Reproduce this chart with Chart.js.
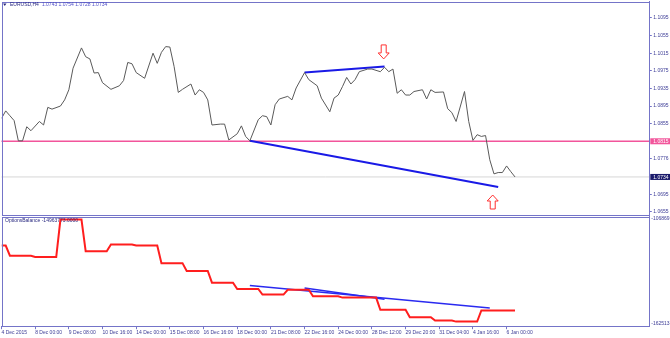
<!DOCTYPE html>
<html>
<head>
<meta charset="utf-8">
<script src="https://cdn.jsdelivr.net/npm/chart.js@4.4.0/dist/chart.umd.min.js"></script>
<style>
body{margin:0;background:#fff;width:670px;height:338px;overflow:hidden;position:relative}
canvas{position:absolute;left:0}
#price-chart{top:0}
#balance-chart{top:215px}
</style>
</head>
<body>
<canvas id="price-chart" width="670" height="216"></canvas>
<canvas id="balance-chart" width="670" height="123"></canvas>
<script>
// EURUSD H4 closes (bar index -> price)
var priceBars = [0,1,2,3,4,5,6,7,9,10,
	11,12,14,15,16,17,19,20,21,22,
	23,24,26,28,29,30,31,32,34,36,
	37,38,39,40,41,42,43,45,46,47,
	48,49,50,52,53,54,56,57,58,59,
	61,62,63,64,65,66,68,69,70,72,
	73,75,76,78,79,80,81,82,83,84,
	85,87,88,90,91,92,93,94,95,96,
	97,98,100,101,102,103,105,106,107,108,
	110,111,112,113,114,115,116,117,118,119,
	120,121,122];
var priceValues = [1.0867,1.0884,1.0873,1.0862,1.0816,1.0816,1.0848,1.0839,1.0860,1.0852,
	1.0892,1.0888,1.0895,1.0909,1.0932,1.0981,1.1027,1.1007,1.1002,1.0970,
	1.0971,1.0948,1.0933,1.0941,1.0953,1.0994,1.0991,1.0971,1.0958,1.1015,
	1.0992,1.1017,1.1030,1.1029,1.0985,1.0926,1.0933,1.0945,1.0920,1.0932,
	1.0926,1.0909,1.0852,1.0854,1.0854,1.0818,1.0832,1.0850,1.0826,1.0816,
	1.0864,1.0873,1.0871,1.0852,1.0898,1.0911,1.0917,1.0909,1.0936,1.0971,
	1.0955,1.0941,1.0913,1.0882,1.0913,1.0920,1.0939,1.0960,1.0945,1.0955,
	1.0973,1.0979,1.0979,1.0973,1.0983,1.0973,1.0979,1.0924,1.0932,1.0920,
	1.0920,1.0928,1.0932,1.0911,1.0932,1.0926,1.0927,1.0889,1.0880,1.0860,
	1.0928,1.0860,1.0817,1.0830,1.0826,1.0828,1.0773,1.0741,1.0744,1.0744,
	1.0759,1.0746,1.0734];

// OptionsBalance indicator
var balanceBars = [0,1,2,7,8,13,14,19,20,25,
	26,31,32,37,38,43,44,49,50,55,
	56,61,62,67,68,73,74,80,81,89,
	90,96,97,102,103,107,108,113,114,122];
var balanceValues = [-12156000,-12156000,-12668000,-12668000,-12735000,-12735000,-10840000,-10840000,-12443000,-12443000,
	-12105000,-12105000,-12156000,-12156000,-13042000,-13042000,-13436000,-13436000,-14030000,-14030000,
	-14347000,-14347000,-14629000,-14629000,-14388000,-14388000,-14716000,-14716000,-14782000,-14782000,
	-15396000,-15396000,-15770000,-15770000,-15944000,-15944000,-15995000,-15995000,-15432000,-15432000];

// trend lines drawn on the chart
var priceTrendTop = {bars: [72, 91], values: [1.0971, 1.0985]};
var priceTrendLow = {bars: [59, 118], values: [1.0816, 1.0711]};
var balanceTrendA = {bars: [59, 116], values: [-14168000, -15309000]};
var balanceTrendB = {bars: [72, 91], values: [-14300000, -14860000]};

var arrowBars = [90.8, 116.7];
var arrowPrices = [1.1002, 1.0693];
var arrowDirs = ['down', 'up'];

var levelPrices = [1.0815, 1.0734];
var priceTicks = [1.1095, 1.1055, 1.1015, 1.0975, 1.0935, 1.0895, 1.0855, 1.0776, 1.0695, 1.0655];
var timeLabels = ['4 Dec 2015','8 Dec 00:00','9 Dec 08:00','10 Dec 16:00','14 Dec 00:00','15 Dec 08:00',
	'16 Dec 16:00','18 Dec 00:00','21 Dec 08:00','22 Dec 16:00','24 Dec 00:00','28 Dec 12:00',
	'29 Dec 20:00','31 Dec 04:00','4 Jan 16:00','6 Jan 00:00'];
var balanceLabels = ['-10686957', '-16251348'];
var headerName = 'EURUSD,H4';
var headerPrices = '1.0743 1.0754 1.0728 1.0734';
var balanceCaption = 'OptionsBalance -14963773.0000';

var axisColor = '#7474c8';
var labelColor = '#3c3c96';
var tinyFont = {family: 'Liberation Sans', size: 5};
Chart.defaults.font.family = 'Liberation Sans';

function points(bars, values){
	return bars.map(function(b, i){ return {x: b, y: values[i]}; });
}

function drawFrame(chart){
	var ctx = chart.ctx, a = chart.chartArea;
	ctx.save();
	ctx.strokeStyle = axisColor;
	ctx.lineWidth = 1;
	ctx.strokeRect(Math.round(a.left) + 0.5, Math.round(a.top) + 0.5,
		Math.round(a.right - a.left) - 1, Math.round(a.bottom - a.top) - 1);
	ctx.restore();
}

function drawArrow(ctx, cx, tipY, dir){
	var s = dir == 'down' ? -1 : 1;
	ctx.beginPath();
	ctx.moveTo(cx, tipY);
	ctx.lineTo(cx + 5.5, tipY - s * -6);
	ctx.lineTo(cx + 2.5, tipY - s * -6);
	ctx.lineTo(cx + 2.5, tipY - s * -14);
	ctx.lineTo(cx - 2.5, tipY - s * -14);
	ctx.lineTo(cx - 2.5, tipY - s * -6);
	ctx.lineTo(cx - 5.5, tipY - s * -6);
	ctx.closePath();
	ctx.fillStyle = '#fff';
	ctx.fill();
	ctx.strokeStyle = '#ff3030';
	ctx.lineWidth = 1;
	ctx.stroke();
}

var pricePanel = {
	id: 'pricePanel',
	beforeDatasetsDraw: function(chart){
		var ctx = chart.ctx, a = chart.chartArea, y = chart.scales.y;
		ctx.save();
		var yp = y.getPixelForValue(levelPrices[1]);
		ctx.strokeStyle = '#d6d6d6';
		ctx.lineWidth = 1;
		ctx.beginPath(); ctx.moveTo(a.left, yp); ctx.lineTo(a.right, yp); ctx.stroke();
		yp = y.getPixelForValue(levelPrices[0]);
		ctx.strokeStyle = '#f2559b';
		ctx.lineWidth = 1.5;
		ctx.beginPath(); ctx.moveTo(a.left, yp); ctx.lineTo(a.right, yp); ctx.stroke();
		ctx.restore();
	},
	afterDraw: function(chart){
		var ctx = chart.ctx, a = chart.chartArea, x = chart.scales.x, y = chart.scales.y;
		drawFrame(chart);
		ctx.save();
		// level labels on the price axis
		var boxColors = ['#f2559b', '#1c1c6c'];
		levelPrices.forEach(function(p, i){
			var yp = y.getPixelForValue(p);
			ctx.fillStyle = boxColors[i];
			ctx.fillRect(a.right + 1, yp - 3, 670 - a.right, 6);
			ctx.fillStyle = '#fff';
			ctx.font = '5px "Liberation Sans"';
			ctx.textBaseline = 'middle';
			ctx.fillText(p.toFixed(4), a.right + 4, yp + 0.3);
		});
		arrowBars.forEach(function(b, i){
			drawArrow(ctx, x.getPixelForValue(b), y.getPixelForValue(arrowPrices[i]), arrowDirs[i]);
		});
		// header
		ctx.fillStyle = '#2a2a80';
		ctx.beginPath(); ctx.moveTo(3, 3.5); ctx.lineTo(6.5, 3.5); ctx.lineTo(4.75, 6); ctx.closePath(); ctx.fill();
		ctx.font = '5px "Liberation Sans"';
		ctx.textBaseline = 'middle';
		ctx.fillText(headerName, 10, 5);
		ctx.fillStyle = '#5050c8';
		ctx.fillText(headerPrices, 10 + ctx.measureText(headerName).width + 3, 5);
		ctx.restore();
	}
};

var balancePanel = {
	id: 'balancePanel',
	afterDraw: function(chart){
		var ctx = chart.ctx, a = chart.chartArea;
		drawFrame(chart);
		ctx.save();
		ctx.font = '5px "Liberation Sans"';
		ctx.textBaseline = 'middle';
		ctx.fillStyle = '#2a2a80';
		ctx.fillText(balanceCaption, 5, a.top + 4.5);
		ctx.fillStyle = labelColor;
		ctx.fillText(balanceLabels[0], a.right + 2, a.top + 2.5);
		ctx.fillText(balanceLabels[1], a.right + 2, a.bottom - 3.5);
		ctx.restore();
	}
};

new Chart(document.getElementById('price-chart'), {
	type: 'line',
	data: {
		datasets: [{
			data: points(priceBars, priceValues),
			borderColor: '#5a5a5a',
			borderWidth: 1
		}, {
			data: points(priceTrendTop.bars, priceTrendTop.values),
			borderColor: '#1a1ae6',
			borderWidth: 2
		}, {
			data: points(priceTrendLow.bars, priceTrendLow.values),
			borderColor: '#1a1ae6',
			borderWidth: 2
		}]
	},
	options: {
		responsive: false,
		animation: false,
		devicePixelRatio: 1,
		events: [],
		layout: {padding: {left: 1.5, top: 1.5, right: 0, bottom: 1}},
		elements: {point: {radius: 0}, line: {tension: 0}},
		plugins: {legend: {display: false}, tooltip: {enabled: false}},
		scales: {
			x: {type: 'linear', display: false, min: 0, max: 153.9},
			y: {
				position: 'right',
				min: 1.06476,
				max: 1.11324,
				afterBuildTicks: function(s){ s.ticks = priceTicks.map(function(v){ return {value: v}; }); },
				afterFit: function(s){ s.width = 20.7; s.paddingTop = 0; s.paddingBottom = 0; },
				ticks: {autoSkip: false, font: tinyFont, color: labelColor, padding: 1.5,
					callback: function(v){ return v.toFixed(4); }},
				grid: {drawOnChartArea: false, tickLength: 2.5, color: axisColor},
				border: {color: axisColor}
			}
		}
	},
	plugins: [pricePanel]
});

new Chart(document.getElementById('balance-chart'), {
	type: 'line',
	data: {
		datasets: [{
			data: points(balanceBars, balanceValues),
			borderColor: '#ff1e1e',
			borderWidth: 2
		}, {
			data: points(balanceTrendA.bars, balanceTrendA.values),
			borderColor: '#2a2af0',
			borderWidth: 1.5
		}, {
			data: points(balanceTrendB.bars, balanceTrendB.values),
			borderColor: '#2a2af0',
			borderWidth: 1.5
		}]
	},
	options: {
		responsive: false,
		animation: false,
		devicePixelRatio: 1,
		events: [],
		layout: {padding: {left: 1.5, top: 1.5, right: 0, bottom: 0}},
		elements: {point: {radius: 0}, line: {tension: 0}},
		plugins: {legend: {display: false}, tooltip: {enabled: false}},
		scales: {
			x: {
				type: 'linear',
				min: 0,
				max: 153.9,
				afterBuildTicks: function(s){ s.ticks = timeLabels.map(function(t, i){ return {value: i * 8}; }); },
				afterFit: function(s){ s.height = 11.3; s.paddingLeft = 0; s.paddingRight = 0; },
				ticks: {autoSkip: false, maxRotation: 0, align: 'start', padding: 0.5, font: tinyFont, color: labelColor,
					callback: function(v){ return timeLabels[Math.round(v / 8)]; }},
				grid: {drawOnChartArea: false, tickLength: 2.5, color: axisColor},
				border: {color: axisColor}
			},
			y: {
				position: 'right',
				min: -16251310,
				max: -10686957,
				afterFit: function(s){ s.width = 20.7; s.paddingTop = 0; s.paddingBottom = 0; },
				ticks: {display: false},
				grid: {drawOnChartArea: false, drawTicks: false, color: axisColor},
				border: {color: axisColor}
			}
		}
	},
	plugins: [balancePanel]
});
</script>
</body>
</html>
